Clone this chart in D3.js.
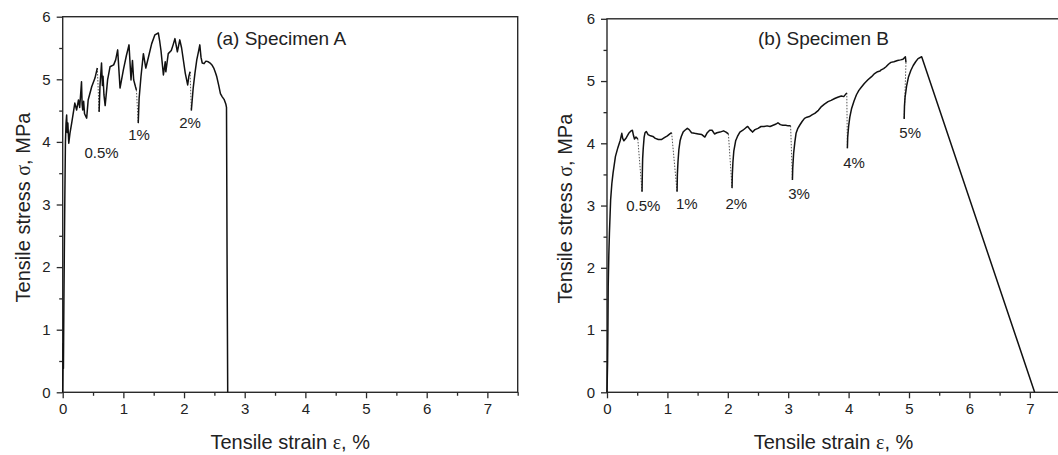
<!DOCTYPE html>
<html>
<head>
<meta charset="utf-8">
<script src="https://cdn.jsdelivr.net/npm/d3@7"></script>
<style>
  body { margin: 0; background: #fff; }
  svg text { font-family: "Liberation Sans", Arial, sans-serif; fill: #222; }
</style>
</head>
<body>
<svg id="chart" width="1058" height="455"></svg>
<script>
// Axis ticks
const strainTicks = [0, 1, 2, 3, 4, 5, 6, 7];
const strainMinor = [0.5, 1.5, 2.5, 3.5, 4.5, 5.5, 6.5, 7.5];
const stressTicks = [0, 1, 2, 3, 4, 5, 6];
const stressMinor = [0.5, 1.5, 2.5, 3.5, 4.5, 5.5];

// Specimen A: loading branches [strain %, stress MPa], unloaded at 0.5 %, 1 %, 2 %
const aLoad1 = [[0,0],[0.008,0.78],[0.012,0.38],[0.02,1.5],[0.035,3.1],[0.045,4.0],[0.055,4.3],[0.065,4.43],
  [0.075,4.15],[0.085,4.3],[0.1,3.98],[0.12,4.14],[0.148,4.3],[0.2,4.62],[0.23,4.51],[0.26,4.67],[0.28,4.55],
  [0.3,4.82],[0.31,4.96],[0.32,4.6],[0.33,4.51],[0.345,4.65],[0.36,4.45],[0.395,4.38],[0.42,4.67],[0.478,4.88],
  [0.532,5.02],[0.571,5.18]];
const aLoad2 = [[0.6,4.48],[0.615,4.9],[0.64,5.26],[0.655,4.9],[0.665,5.05],[0.68,4.75],[0.7,4.58],[0.74,4.99],
  [0.78,5.2],[0.84,5.23],[0.873,5.31],[0.906,5.47],[0.945,4.86],[1.0,5.15],[1.05,5.38],[1.093,5.55],[1.126,4.99],
  [1.15,5.3],[1.17,4.99],[1.2,4.88],[1.215,4.83]];
const aLoad3 = [[1.245,4.3],[1.26,4.7],[1.29,5.04],[1.33,5.41],[1.37,5.18],[1.4,5.3],[1.42,5.38],[1.467,5.57],
  [1.52,5.71],[1.576,5.74],[1.6,5.6],[1.62,5.46],[1.66,5.07],[1.69,5.28],[1.7,5.12],[1.74,5.41],[1.79,5.46],
  [1.82,5.55],[1.85,5.65],[1.89,5.44],[1.93,5.63],[1.96,5.5],[2.02,5.1],[2.06,4.91],[2.08,5.05],[2.1,5.12]];
const aLoad4 = [[2.12,4.5],[2.15,4.85],[2.18,5.1],[2.21,5.31],[2.24,5.45],[2.26,5.55],[2.28,5.35],[2.3,5.26],
  [2.33,5.25],[2.36,5.29],[2.4,5.28],[2.43,5.26],[2.46,5.23],[2.49,5.18],[2.52,5.1],[2.54,5.04],[2.57,4.91],
  [2.6,4.77],[2.63,4.72],[2.66,4.68],[2.69,4.6],[2.7,4.55],[2.705,3.3],[2.71,2.0],[2.715,1.0],[2.72,0]];

// Specimen B: loading branches, unloaded at 0.5 %, 1 %, 2 %, 3 %, 4 %, 5 %
const bLoad1 = [[0,0],[0.01,0.5],[0.015,1.0],[0.02,1.7],[0.03,2.2],[0.04,2.55],[0.06,3.09],[0.08,3.35],[0.1,3.52],
  [0.14,3.79],[0.18,3.93],[0.22,4.05],[0.245,4.16],[0.26,4.08],[0.28,4.04],[0.32,4.09],[0.36,4.16],[0.4,4.2],
  [0.42,4.21],[0.44,4.12],[0.455,4.07],[0.48,4.1],[0.51,4.07]];
const bLoad2 = [[0.58,3.22],[0.585,3.52],[0.59,3.75],[0.6,3.92],[0.615,4.1],[0.63,4.17],[0.65,4.19],[0.68,4.14],
  [0.72,4.12],[0.76,4.11],[0.8,4.08],[0.85,4.06],[0.9,4.06],[0.95,4.09],[1.0,4.12],[1.04,4.15],[1.07,4.17]];
const bLoad3 = [[1.16,3.22],[1.165,3.5],[1.175,3.7],[1.19,3.9],[1.21,4.04],[1.23,4.11],[1.26,4.18],[1.29,4.21],
  [1.33,4.24],[1.36,4.22],[1.4,4.17],[1.45,4.16],[1.51,4.15],[1.57,4.14],[1.62,4.1],[1.66,4.17],[1.7,4.21],
  [1.74,4.21],[1.78,4.15],[1.82,4.17],[1.87,4.18],[1.93,4.2],[1.97,4.18],[2.01,4.15]];
const bLoad4 = [[2.07,3.28],[2.075,3.5],[2.085,3.7],[2.1,3.88],[2.13,4.04],[2.16,4.11],[2.2,4.18],[2.25,4.21],
  [2.3,4.25],[2.33,4.27],[2.37,4.22],[2.41,4.18],[2.45,4.22],[2.5,4.24],[2.55,4.27],[2.6,4.27],[2.65,4.28],
  [2.7,4.27],[2.75,4.29],[2.8,4.31],[2.83,4.33],[2.87,4.3],[2.91,4.29],[2.96,4.29],[3.0,4.28],[3.04,4.28]];
const bLoad5 = [[3.07,3.41],[3.075,3.6],[3.09,3.84],[3.11,4.02],[3.13,4.16],[3.16,4.24],[3.19,4.29],[3.23,4.35],
  [3.27,4.4],[3.31,4.42],[3.35,4.43],[3.4,4.46],[3.44,4.48],[3.5,4.53],[3.55,4.59],[3.6,4.63],[3.66,4.67],
  [3.71,4.69],[3.77,4.72],[3.82,4.74],[3.88,4.76],[3.92,4.75],[3.97,4.81]];
const bLoad6 = [[3.98,3.92],[3.985,4.1],[4.0,4.27],[4.02,4.42],[4.05,4.56],[4.09,4.68],[4.13,4.78],[4.17,4.85],
  [4.21,4.9],[4.26,4.96],[4.32,5.02],[4.38,5.07],[4.43,5.12],[4.48,5.15],[4.52,5.16],[4.54,5.18],[4.58,5.2],
  [4.62,5.23],[4.66,5.27],[4.7,5.3],[4.75,5.31],[4.81,5.33],[4.86,5.34],[4.9,5.35],[4.94,5.39],[4.95,5.3]];
const bLoad7 = [[4.92,4.39],[4.925,4.6],[4.935,4.74],[4.96,4.92],[4.99,5.06],[5.03,5.17],[5.07,5.25],
  [5.11,5.31],[5.15,5.36],[5.21,5.39],[7.08,0]];

// Unloading-step annotations: text, anchor strain, baseline stress
const aStepLabels = ["0.5%", "1%", "2%"];
const aStepStrain = [0.64, 1.26, 2.10];
const aStepStress = [3.74, 4.03, 4.23];
const bStepLabels = ["0.5%", "1%", "2%", "3%", "4%", "5%"];
const bStepStrain = [0.60, 1.32, 2.14, 3.18, 4.09, 5.02];
const bStepStress = [2.92, 2.94, 2.94, 3.10, 3.61, 4.09];

const svg = d3.select("#chart");

function drawPanel(p) {
  const x = d3.scaleLinear().domain([0, 7.5]).range([p.left, p.right]);
  const y = d3.scaleLinear().domain([0, 6]).range([p.bottom, p.top]);
  const g = svg.append("g");
  const axisColor = "#2a2a2a";

  // frame
  g.append("rect")
    .attr("x", p.left).attr("y", p.top)
    .attr("width", p.right - p.left).attr("height", p.bottom - p.top)
    .attr("fill", "none").attr("stroke", axisColor).attr("stroke-width", 1.4);

  // x axis: major + minor ticks
  const xAx = g.append("g").attr("transform", `translate(0,${p.bottom})`)
    .call(d3.axisBottom(x).tickValues(strainTicks).tickSize(6).tickPadding(5).tickFormat(d3.format("d")));
  const xMin = g.append("g").attr("transform", `translate(0,${p.bottom})`)
    .call(d3.axisBottom(x).tickValues(strainMinor).tickSize(3.5).tickFormat(""));
  const yAx = g.append("g").attr("transform", `translate(${p.left},0)`)
    .call(d3.axisLeft(y).tickValues(stressTicks).tickSize(6).tickPadding(6).tickFormat(d3.format("d")));
  const yMin = g.append("g").attr("transform", `translate(${p.left},0)`)
    .call(d3.axisLeft(y).tickValues(stressMinor).tickSize(3.5).tickFormat(""));
  [xAx, xMin, yAx, yMin].forEach(a => {
    a.select(".domain").remove();
    a.selectAll("line").attr("stroke", axisColor).attr("stroke-width", 1.3);
    a.selectAll("text").attr("font-size", 15).attr("fill", "#222")
      .style("font-family", '"Liberation Sans", Arial, sans-serif');
  });

  // axis titles
  const xt = g.append("text")
    .attr("x", (p.left + Math.min(p.right, 1058 + 7)) / 2 + p.xTitleShift)
    .attr("y", 449).attr("text-anchor", "middle").attr("font-size", 20);
  xt.append("tspan").text("Tensile strain ");
  xt.append("tspan").style("font-family", '"Liberation Serif", serif').text("ε");
  xt.append("tspan").text(", %");

  const yt = g.append("text")
    .attr("transform", `translate(${p.yTitleX},${(p.top + p.bottom) / 2 + 3}) rotate(-90)`)
    .attr("text-anchor", "middle").attr("font-size", 20);
  yt.append("tspan").text("Tensile stress ");
  yt.append("tspan").style("font-family", '"Liberation Serif", serif').text("σ");
  yt.append("tspan").text(", MPa");

  // panel title
  g.append("text").attr("x", x(p.titleStrain)).attr("y", y(p.titleStress))
    .attr("font-size", 19).text(p.title);

  const line = d3.line().x(d => x(d[0])).y(d => y(d[1]));

  // unloading jumps between successive branches (dotted)
  for (let i = 0; i < p.branches.length - 1; i++) {
    const a = p.branches[i], b = p.branches[i + 1];
    g.append("path").attr("d", line([a[a.length - 1], b[0]]))
      .attr("fill", "none").attr("stroke", "#555").attr("stroke-width", 1)
      .attr("stroke-dasharray", "1.5,1.5");
  }
  // loading branches
  p.branches.forEach(br => {
    g.append("path").attr("d", line(br))
      .attr("fill", "none").attr("stroke", "#111").attr("stroke-width", 1.5)
      .attr("stroke-linejoin", "round");
  });

  // step annotations
  p.labels.forEach((t, i) => {
    g.append("text").attr("x", x(p.labelStrain[i])).attr("y", y(p.labelStress[i]))
      .attr("text-anchor", "middle").attr("font-size", 15).text(t);
  });
}

drawPanel({
  left: 62.7, right: 517.7, top: 16.7, bottom: 392.3,
  branches: [aLoad1, aLoad2, aLoad3, aLoad4],
  labels: aStepLabels, labelStrain: aStepStrain, labelStress: aStepStress,
  title: "(a) Specimen A", titleStrain: 2.53, titleStress: 5.55,
  yTitleX: 30, xTitleShift: 0
});

drawPanel({
  left: 607, right: 1060, top: 18.8, bottom: 392.3,
  branches: [bLoad1, bLoad2, bLoad3, bLoad4, bLoad5, bLoad6, bLoad7],
  labels: bStepLabels, labelStrain: bStepStrain, labelStress: bStepStress,
  title: "(b) Specimen B", titleStrain: 2.5, titleStress: 5.58,
  yTitleX: 572, xTitleShift: 0
});
</script>
</body>
</html>
